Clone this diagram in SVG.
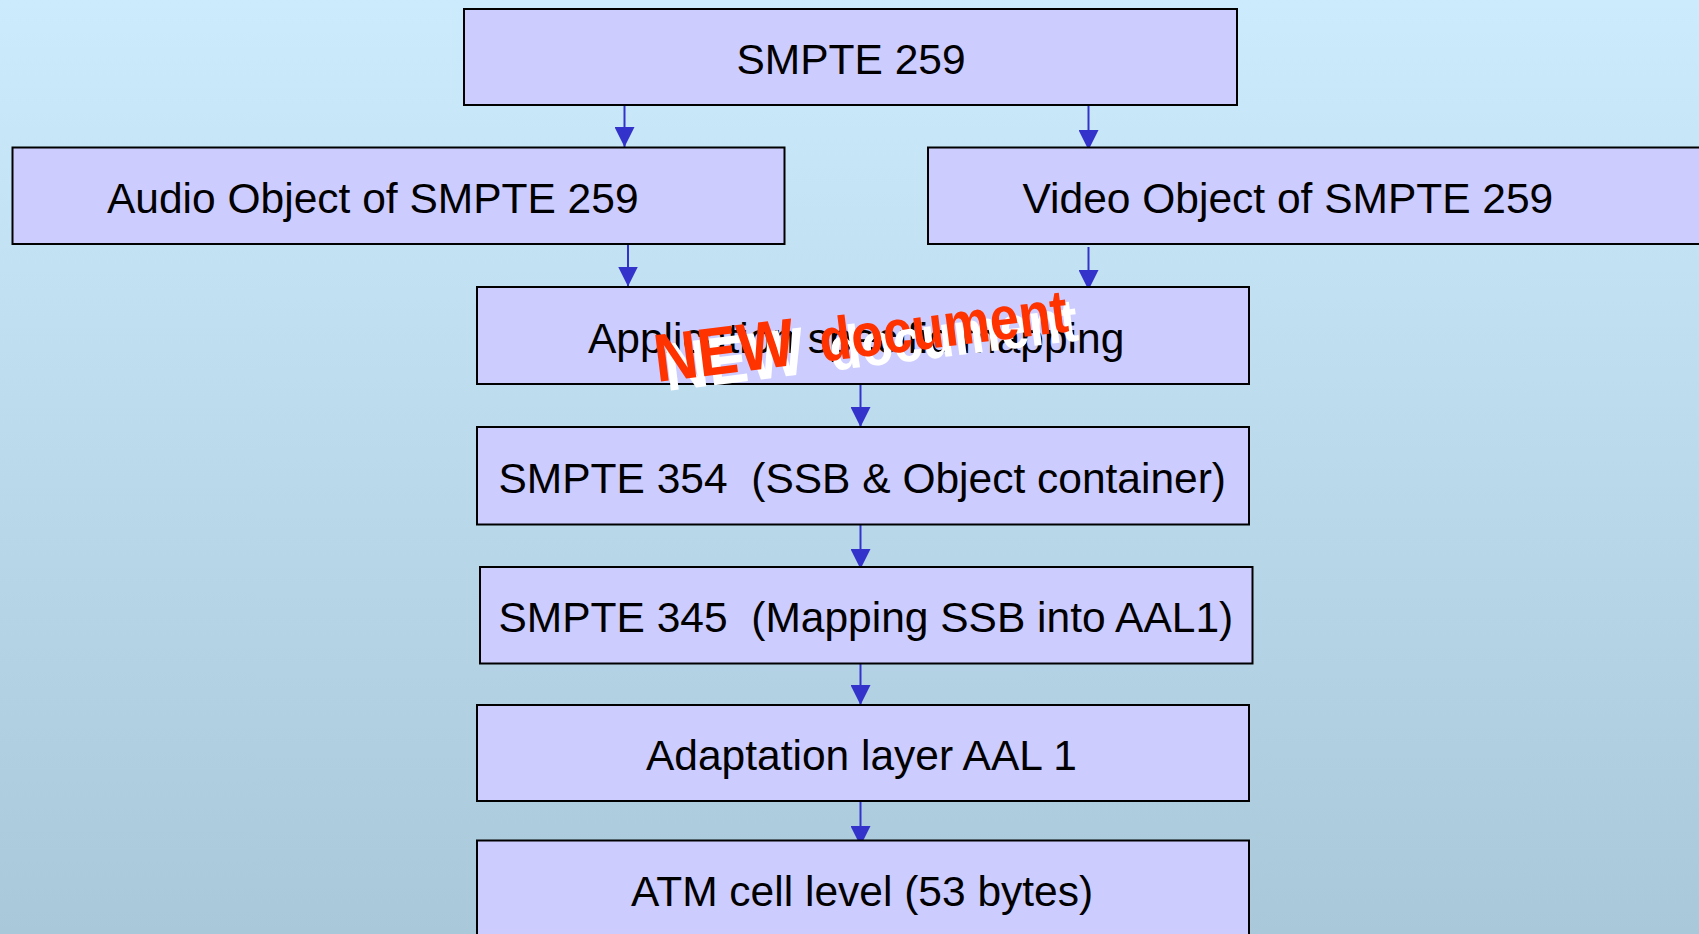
<svg xmlns="http://www.w3.org/2000/svg" width="1699" height="934" viewBox="0 0 1699 934">
  <defs>
    <linearGradient id="bg" x1="0" y1="0" x2="0" y2="1">
      <stop offset="0" stop-color="#CCECFE"/>
      <stop offset="1" stop-color="#A9C8DA"/>
    </linearGradient>
    <marker id="arrow" viewBox="0 0 20 20" refX="20" refY="10" markerWidth="20" markerHeight="20" markerUnits="userSpaceOnUse" orient="auto" preserveAspectRatio="none">
      <path d="M0,0 L20,10 L0,20 Z" fill="#3333CC"/>
    </marker>
    <style>
      .box { fill: #CCCCFF; stroke: #000000; stroke-width: 2; }
      .lbl { font-family: "Liberation Sans", Arial, sans-serif; font-size: 42.5px; fill: #000000; white-space: pre; }
      .link { stroke: #3333CC; stroke-width: 2; fill: none; marker-end: url(#arrow); }
      .stamp { font-family: "Liberation Sans", Arial, sans-serif; font-weight: bold; font-size: 61px; }
      .stamp.big { font-size: 68px; }
    </style>
  </defs>

  <rect x="0" y="0" width="1699" height="934" fill="url(#bg)"/>

  <!-- connectors -->
  <g id="connectors">
    <line class="link" x1="624.5" y1="104" x2="624.5" y2="147"/>
    <line class="link" x1="1088.5" y1="106" x2="1088.5" y2="150"/>
    <line class="link" x1="628" y1="244" x2="628" y2="286.5"/>
    <line class="link" x1="1088.5" y1="247" x2="1088.5" y2="290"/>
    <line class="link" x1="860.5" y1="384" x2="860.5" y2="427"/>
    <line class="link" x1="860.5" y1="525" x2="860.5" y2="569"/>
    <line class="link" x1="860.5" y1="664" x2="860.5" y2="705"/>
    <line class="link" x1="860.5" y1="801" x2="860.5" y2="846"/>
  </g>

  <!-- nodes -->
  <g id="smpte259">
    <rect class="box" x="464" y="9" width="773" height="96"/>
    <text class="lbl" x="736.5" y="74">SMPTE 259</text>
  </g>
  <g id="audio-object">
    <rect class="box" x="12.5" y="147.5" width="772" height="96.5"/>
    <text class="lbl" x="107" y="212.5">Audio Object of SMPTE 259</text>
  </g>
  <g id="video-object">
    <rect class="box" x="928" y="147.5" width="790" height="96.5"/>
    <text class="lbl" x="1022.5" y="212.5">Video Object of SMPTE 259</text>
  </g>
  <g id="app-mapping">
    <rect class="box" x="477" y="287" width="772" height="97"/>
    <text class="lbl" x="588" y="353">Application specific mapping</text>
  </g>
  <g id="smpte354">
    <rect class="box" x="477" y="427" width="772" height="97.5"/>
    <text class="lbl" x="498.5" y="493">SMPTE 354  (SSB &amp; Object container)</text>
  </g>
  <g id="smpte345">
    <rect class="box" x="480" y="567" width="772.5" height="96.5"/>
    <text class="lbl" x="498.5" y="632">SMPTE 345  (Mapping SSB into AAL1)</text>
  </g>
  <g id="aal1">
    <rect class="box" x="477" y="705" width="772" height="96"/>
    <text class="lbl" x="646" y="770">Adaptation layer AAL 1</text>
  </g>
  <g id="atm-cell">
    <rect class="box" x="477" y="840.5" width="772" height="100"/>
    <text class="lbl" x="631" y="906">ATM cell level (53 bytes)</text>
  </g>

  <!-- "NEW document" stamp with white drop shadow -->
  <g id="new-stamp">
    <g transform="translate(667,391) rotate(-7)">
      <text class="stamp big" fill="#FFFFFF" x="0" y="0" textLength="141" lengthAdjust="spacingAndGlyphs">NEW</text>
      <text class="stamp" fill="#FFFFFF" x="166" y="0" textLength="250" lengthAdjust="spacingAndGlyphs">document</text>
    </g>
    <g transform="translate(657,382) rotate(-7)">
      <text class="stamp big" fill="#FF3300" x="0" y="0" textLength="141" lengthAdjust="spacingAndGlyphs">NEW</text>
      <text class="stamp" fill="#FF3300" x="166" y="0" textLength="250" lengthAdjust="spacingAndGlyphs">document</text>
    </g>
  </g>
</svg>
